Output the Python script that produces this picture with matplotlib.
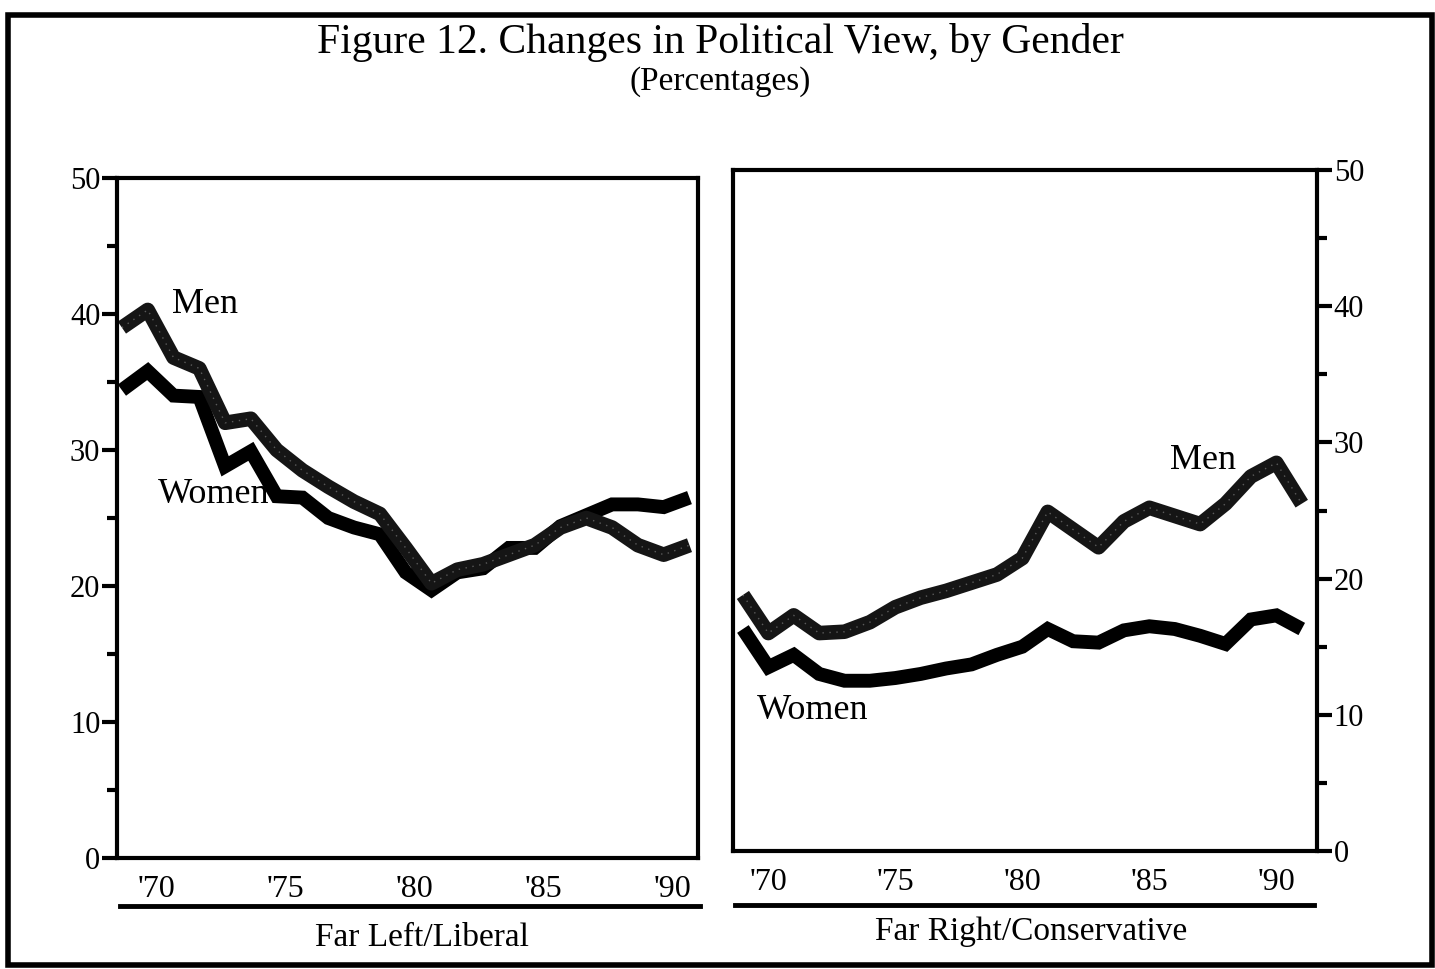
import matplotlib
matplotlib.use("Agg")
import matplotlib.pyplot as plt
import matplotlib.transforms as mtransforms
from matplotlib.patches import Rectangle
from matplotlib.lines import Line2D

plt.rcParams['font.family'] = ['Liberation Serif', 'DejaVu Serif']

years = list(range(1969, 1992))

# Far Left / Liberal (percent)
liberal_men = [39.0, 40.3, 36.8, 36.0, 32.0, 32.3, 30.0, 28.5, 27.3, 26.2, 25.3, 22.8,
               20.2, 21.2, 21.6, 22.3, 23.0, 24.3, 25.0, 24.3, 23.0, 22.3, 23.0]
liberal_women = [34.4, 35.8, 34.0, 33.9, 28.8, 29.9, 26.6, 26.5, 25.0, 24.3, 23.8, 21.0,
                 19.7, 21.0, 21.3, 22.8, 22.8, 24.4, 25.2, 26.0, 26.0, 25.8, 26.5]

# Far Right / Conservative (percent)
conservative_men = [18.8, 16.0, 17.3, 16.0, 16.1, 16.8, 17.9, 18.6, 19.1, 19.7, 20.3, 21.5,
                    24.9, 23.6, 22.3, 24.2, 25.2, 24.6, 24.0, 25.5, 27.5, 28.5, 25.5]
conservative_women = [16.3, 13.5, 14.4, 13.0, 12.5, 12.5, 12.7, 13.0, 13.4, 13.7, 14.4, 15.0,
                      16.3, 15.4, 15.3, 16.2, 16.5, 16.3, 15.8, 15.2, 17.0, 17.3, 16.3]

tick_years = [1970, 1975, 1980, 1985, 1990]
tick_labels = ["'70", "'75", "'80", "'85", "'90"]
y_major = [0, 10, 20, 30, 40, 50]
y_minor = [5, 15, 25, 35, 45]

W, H = 1435, 969
fig = plt.figure(figsize=(W / 100, H / 100), dpi=100)
fig.patch.set_facecolor('white')


def fx(px):
    return px / W


def fy(py):
    return 1 - py / H


# outer frame
fig.add_artist(Rectangle((fx(8), fy(965)), fx(1432) - fx(8), fy(15) - fy(965),
                         transform=fig.transFigure, fill=False, lw=4, ec='black'))

fig.text(fx(720), fy(42), "Figure 12. Changes in Political View, by Gender",
         ha='center', va='center', fontsize=30)
fig.text(fx(720), fy(82), "(Percentages)", ha='center', va='center', fontsize=24)

axL = fig.add_axes([fx(117), fy(858), fx(698) - fx(117), fy(178) - fy(858)])
axR = fig.add_axes([fx(733), fy(851), fx(1317) - fx(733), fy(170) - fy(851)])

axL.set_xlim(1968.81, 1991.33)
axR.set_xlim(1968.61, 1991.60)


def style(ax, side):
    ax.set_ylim(0, 50)
    for sp in ax.spines.values():
        sp.set_linewidth(3)
    ax.set_yticks(y_major)
    ax.set_yticks(y_minor, minor=True)
    ax.set_yticklabels([str(v) for v in y_major])
    if side == 'right':
        ax.yaxis.tick_right()
    ax.tick_params(axis='y', which='major', length=11, width=3, labelsize=22, pad=1,
                   direction='out')
    ax.tick_params(axis='y', which='minor', length=7, width=3, direction='out')
    ax.set_xticks(tick_years)
    ax.set_xticklabels(tick_labels)
    ax.tick_params(axis='x', length=0, labelsize=23, pad=12)


style(axL, 'left')
style(axR, 'right')

# shift left panel tick labels slightly right as in reference
off = mtransforms.ScaledTranslation(9 / 100, 0, fig.dpi_scale_trans)
for lab in axL.get_xticklabels():
    lab.set_transform(lab.get_transform() + off)


def draw(ax, men, women):
    ax.plot(years, women, color='black', lw=10, solid_capstyle='butt',
            solid_joinstyle='miter')
    ax.plot(years, men, color='#151515', lw=10.5, solid_capstyle='butt',
            solid_joinstyle='round')
    ax.plot(years, men, color='white', lw=1.0, ls=(0, (1, 4)), alpha=0.3)


draw(axL, liberal_men, liberal_women)
draw(axR, conservative_men, conservative_women)

axL.text(1970.94, 40.7, "Men", fontsize=26, ha='left', va='center')
axL.text(1970.4, 26.7, "Women", fontsize=26, ha='left', va='center')
axR.text(1985.8, 28.7, "Men", fontsize=26, ha='left', va='center')
axR.text(1969.55, 10.35, "Women", fontsize=26, ha='left', va='center')

# underline bars and panel captions
fig.add_artist(Line2D([fx(120), fx(700)], [fy(906), fy(906)], transform=fig.transFigure,
                      color='black', lw=3.5))
fig.add_artist(Line2D([fx(735), fx(1314)], [fy(905), fy(905)], transform=fig.transFigure,
                      color='black', lw=3.5))
fig.text(fx(422), fy(938), "Far Left/Liberal", ha='center', va='center', fontsize=24)
fig.text(fx(1031), fy(932), "Far Right/Conservative", ha='center', va='center', fontsize=24)

fig.savefig("out.png", dpi=100, facecolor='white')
